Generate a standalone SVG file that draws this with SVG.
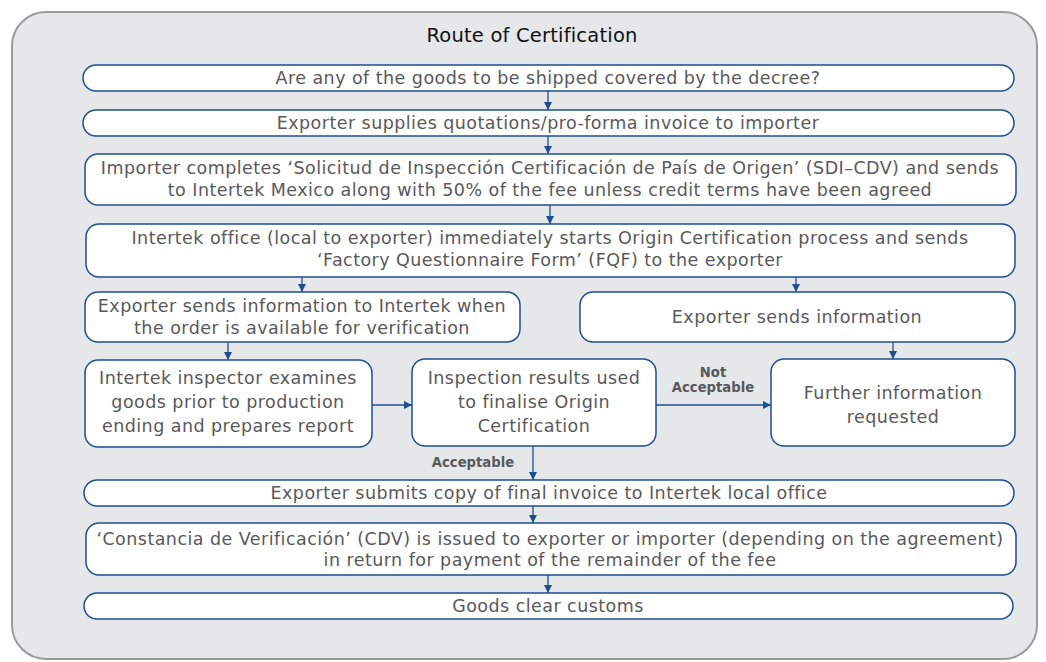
<svg xmlns="http://www.w3.org/2000/svg" width="1046" height="662" viewBox="0 0 1046 662">
<style>
.box{fill:#ffffff;stroke:#1d4f8f;stroke-width:1.5}
.t{font-family:"DejaVu Sans","Open Sans","Liberation Sans",sans-serif;font-size:17.5px;letter-spacing:0.45px;fill:#58595b;text-anchor:middle}
.lbl{font-family:"DejaVu Sans","Open Sans","Liberation Sans",sans-serif;font-size:13.2px;font-weight:bold;fill:#58595b;text-anchor:middle}
.c{stroke:#1d4f8f;stroke-width:1.3;fill:none;marker-end:url(#ah)}
</style>
<defs>
<marker id="ah" viewBox="0 0 8 8" refX="8" refY="4" markerWidth="8" markerHeight="8" markerUnits="userSpaceOnUse" orient="auto">
<path d="M0,0 L8,4 L0,8 Z" fill="#1d4f8f"/>
</marker>
</defs>
<rect x="12" y="12" width="1025" height="647" rx="34" fill="#e6e7e9" stroke="#9a9b9d" stroke-width="2"/>
<text class="t" x="532" y="42" style="font-size:19.5px;letter-spacing:0.2px;fill:#111">Route of Certification</text>
<g id="n1"><rect class="box" x="83" y="65" width="931" height="26" rx="13"/><text class="t" x="548" y="84">Are any of the goods to be shipped covered by the decree?</text></g>
<g id="n2"><rect class="box" x="83" y="110" width="931" height="26" rx="13"/><text class="t" x="548" y="129">Exporter supplies quotations/pro-forma invoice to importer</text></g>
<g id="n3"><rect class="box" x="85" y="154" width="931" height="51" rx="13"/><text class="t" x="550" y="174">Importer completes ‘Solicitud de Inspección Certificación de País de Origen’ (SDI–CDV) and sends</text><text class="t" x="550" y="196">to Intertek Mexico along with 50% of the fee unless credit terms have been agreed</text></g>
<g id="n4"><rect class="box" x="86" y="224" width="929" height="53" rx="13"/><text class="t" x="550" y="244">Intertek office (local to exporter) immediately starts Origin Certification process and sends</text><text class="t" x="550" y="266">‘Factory Questionnaire Form’ (FQF) to the exporter</text></g>
<g id="n5"><rect class="box" x="85" y="292" width="435" height="50" rx="13"/><text class="t" x="302" y="312">Exporter sends information to Intertek when</text><text class="t" x="302" y="334">the order is available for verification</text></g>
<g id="n9"><rect class="box" x="580" y="292" width="435" height="50" rx="13"/><text class="t" x="797" y="323">Exporter sends information</text></g>
<g id="n6"><rect class="box" x="85" y="360" width="287" height="87" rx="13"/><text class="t" x="228" y="384">Intertek inspector examines</text><text class="t" x="228" y="408">goods prior to production</text><text class="t" x="228" y="432">ending and prepares report</text></g>
<g id="n7"><rect class="box" x="412" y="359" width="244" height="87" rx="13"/><text class="t" x="534" y="384">Inspection results used</text><text class="t" x="534" y="408">to finalise Origin</text><text class="t" x="534" y="432">Certification</text></g>
<g id="n8"><rect class="box" x="771" y="359" width="244" height="87" rx="13"/><text class="t" x="893" y="399">Further information</text><text class="t" x="893" y="423">requested</text></g>
<g id="n10"><rect class="box" x="84" y="480" width="930" height="26" rx="13"/><text class="t" x="549" y="499">Exporter submits copy of final invoice to Intertek local office</text></g>
<g id="n11"><rect class="box" x="86" y="523" width="930" height="52" rx="13"/><text class="t" x="550" y="545">‘Constancia de Verificación’ (CDV) is issued to exporter or importer (depending on the agreement)</text><text class="t" x="550" y="566">in return for payment of the remainder of the fee</text></g>
<g id="n12"><rect class="box" x="84" y="593" width="929" height="26" rx="13"/><text class="t" x="548" y="612">Goods clear customs</text></g>
<g id="connectors">
<line class="c" x1="548" y1="91" x2="548" y2="110"/>
<line class="c" x1="548" y1="136" x2="548" y2="154"/>
<line class="c" x1="550" y1="205" x2="550" y2="224"/>
<line class="c" x1="302" y1="277" x2="302" y2="292"/>
<line class="c" x1="796" y1="277" x2="796" y2="292"/>
<line class="c" x1="228" y1="342" x2="228" y2="360"/>
<line class="c" x1="893" y1="342" x2="893" y2="359"/>
<line class="c" x1="372" y1="405" x2="412" y2="405"/>
<line class="c" x1="656" y1="405" x2="771" y2="405"/>
<line class="c" x1="533" y1="446" x2="533" y2="480"/>
<line class="c" x1="533" y1="506" x2="533" y2="523"/>
<line class="c" x1="548" y1="575" x2="548" y2="593"/>
<text class="lbl" x="713" y="377">Not</text>
<text class="lbl" x="713" y="392">Acceptable</text>
<text class="lbl" x="473" y="467">Acceptable</text>
</g>
</svg>
